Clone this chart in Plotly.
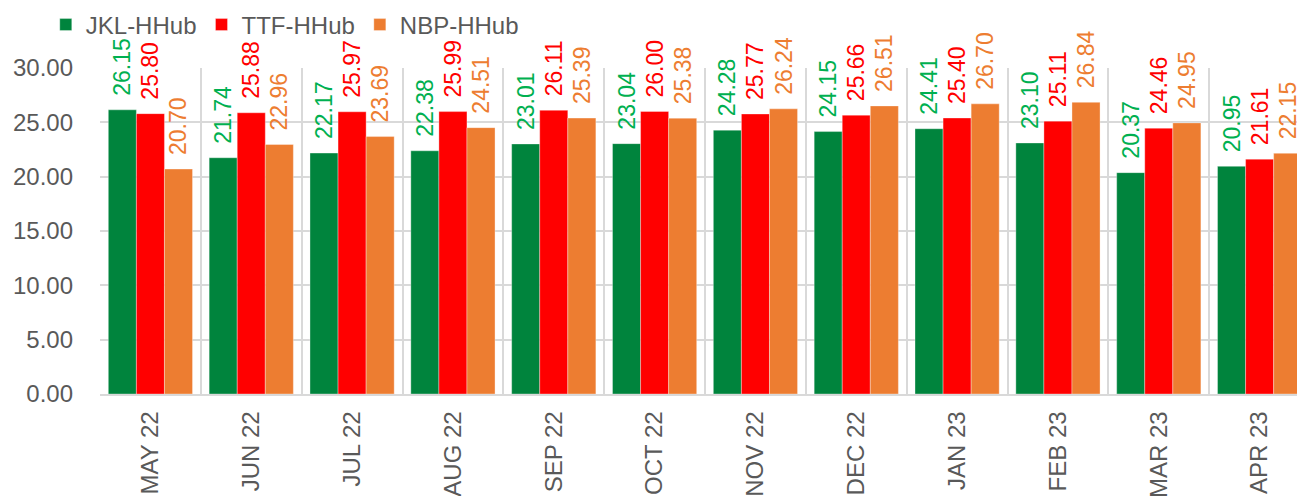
import plotly.graph_objects as go

months = ["MAY 22", "JUN 22", "JUL 22", "AUG 22", "SEP 22", "OCT 22",
          "NOV 22", "DEC 22", "JAN 23", "FEB 23", "MAR 23", "APR 23"]
jkl = [26.15, 21.74, 22.17, 22.38, 23.01, 23.04, 24.28, 24.15, 24.41, 23.10, 20.37, 20.95]
ttf = [25.80, 25.88, 25.97, 25.99, 26.11, 26.00, 25.77, 25.66, 25.40, 25.11, 24.46, 21.61]
nbp = [20.70, 22.96, 23.69, 24.51, 25.39, 25.38, 26.24, 26.51, 26.70, 26.84, 24.95, 22.15]

series = [
    ("JKL-HHub", jkl, "#00843D", "#00B050"),
    ("TTF-HHub", ttf, "#FF0000", "#FF0000"),
    ("NBP-HHub", nbp, "#ED7D31", "#ED7D31"),
]

fig = go.Figure()
for name, vals, col, tcol in series:
    fig.add_trace(go.Bar(
        x=months, y=vals, name=name,
        marker=dict(color=col, line=dict(width=0.75, color="rgba(255,255,255,0.45)")),
        texttemplate="\u00a0\u2009%{y:.2f}", textposition="outside", textangle=-90,
        textfont=dict(color=tcol, size=23, family="Arial, Liberation Sans, sans-serif"),
        cliponaxis=False, constraintext="none",
    ))

fig.update_layout(
    width=1305, height=496,
    margin=dict(l=92, r=8, t=60, b=110, autoexpand=False),
    barmode="group", bargap=0.165, bargroupgap=0,
    plot_bgcolor="white", paper_bgcolor="white",
    font=dict(family="Arial, Liberation Sans, sans-serif", color="#595959", size=24),
    showlegend=True,
    legend=dict(orientation="h", x=-0.045, xanchor="left", y=1.132, yanchor="middle",
                font=dict(size=24, color="#595959"), bgcolor="rgba(0,0,0,0)",
                itemwidth=30, tracegroupgap=0),
)
fig.update_xaxes(
    type="category", range=[-0.5, 11.45], tickson="boundaries",
    showgrid=True, gridcolor="#D9D9D9", gridwidth=1.5,
    showline=True, linecolor="#D9D9D9", linewidth=1.5,
    tickangle=-90, ticks="", automargin=False, ticklabelstandoff=6,
    tickfont=dict(size=24, color="#595959"),
)
fig.update_yaxes(
    range=[0, 30], dtick=5, tickformat=".2f",
    showgrid=True, gridcolor="#D9D9D9", gridwidth=1.5,
    zeroline=False, showline=False, ticks="", automargin=False,
    ticklabelstandoff=26,
    tickfont=dict(size=24, color="#595959"),
)

fig.write_html("out.html")
